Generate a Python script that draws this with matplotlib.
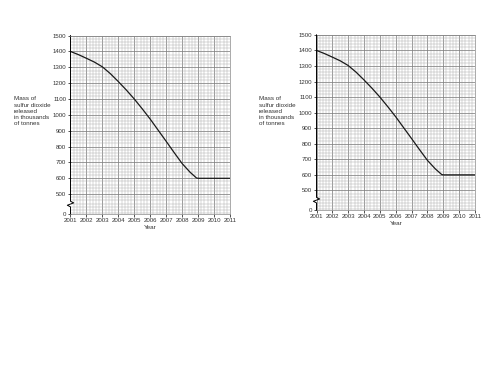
import matplotlib
matplotlib.use("Agg")
import matplotlib.pyplot as plt
from matplotlib.ticker import MultipleLocator, FixedLocator
import matplotlib.transforms as mtransforms

plt.rcParams['font.family'] = ['Liberation Sans', 'DejaVu Sans']

# data (thousands of tonnes)
years = [2001, 2001.5, 2002, 2002.5, 2003, 2003.5, 2004, 2004.5, 2005, 2005.5,
         2006, 2006.5, 2007, 2007.5, 2008, 2008.5, 2008.9, 2009, 2010, 2011]
mass = [1400, 1380, 1357, 1333, 1303, 1260, 1210, 1157, 1100, 1038,
        973, 903, 833, 762, 693, 638, 602, 600, 600, 600]

year_ticks = list(range(2001, 2012))
y_tick_labels = ['0', '500', '600', '700', '800', '900', '1000', '1100',
                 '1200', '1300', '1400', '1500']
# the axis is broken between 0 and 500, so "0" sits a short way below 500
y_zero_pos = 374
y_tick_pos = [y_zero_pos] + list(range(500, 1501, 100))

ylabel_text = "Mass of\nsulfur dioxide\nreleased\nin thousands\nof tonnes"


def draw_panel(fig, rect, label_x, label_y):
    ax = fig.add_axes(rect)
    ax.set_xlim(2001, 2011)
    ax.set_ylim(y_zero_pos, 1500)

    ax.xaxis.set_major_locator(FixedLocator(year_ticks))
    ax.xaxis.set_minor_locator(MultipleLocator(0.2))
    ax.yaxis.set_major_locator(FixedLocator(y_tick_pos))
    ax.yaxis.set_minor_locator(MultipleLocator(20))
    ax.set_xticklabels([str(y) for y in year_ticks])
    ax.set_yticklabels(y_tick_labels)

    # graph paper grid
    ax.grid(which='minor', color='#b0b0b0', linewidth=0.35)
    ax.grid(which='major', color='#808080', linewidth=0.55)
    ax.set_axisbelow(True)

    ax.tick_params(which='major', length=2, width=0.6, labelsize=4.4, pad=1,
                   colors='#333333')
    ax.tick_params(which='minor', length=0)

    for side in ['top', 'right', 'bottom']:
        ax.spines[side].set_linewidth(0.5)
        ax.spines[side].set_color('#888888')
    ax.spines['left'].set_visible(False)

    # left axis with a zigzag break between 0 and 500
    trans = mtransforms.blended_transform_factory(ax.transAxes, ax.transData)
    bx = [0, 0, -0.02, 0.02, 0, 0]
    by = [y_zero_pos, 420, 430, 445, 455, 1500]
    ax.plot(bx, by, transform=trans, color='black', linewidth=0.7,
            clip_on=False)

    ax.plot(years, mass, color='#1a1a1a', linewidth=0.9)

    ax.set_xlabel('Year', fontsize=4.6, labelpad=1, color='#333333')
    fig.text(label_x, label_y, ylabel_text, fontsize=4.5, va='top', ha='left',
             linespacing=1.3, color='#333333')
    return ax


fig = plt.figure(figsize=(5, 3.75), dpi=100)
draw_panel(fig, [0.141, 0.429, 0.319, 0.476], 0.028, 0.743)
draw_panel(fig, [0.633, 0.44, 0.317, 0.467], 0.518, 0.743)

fig.savefig('out.png', dpi=100)
